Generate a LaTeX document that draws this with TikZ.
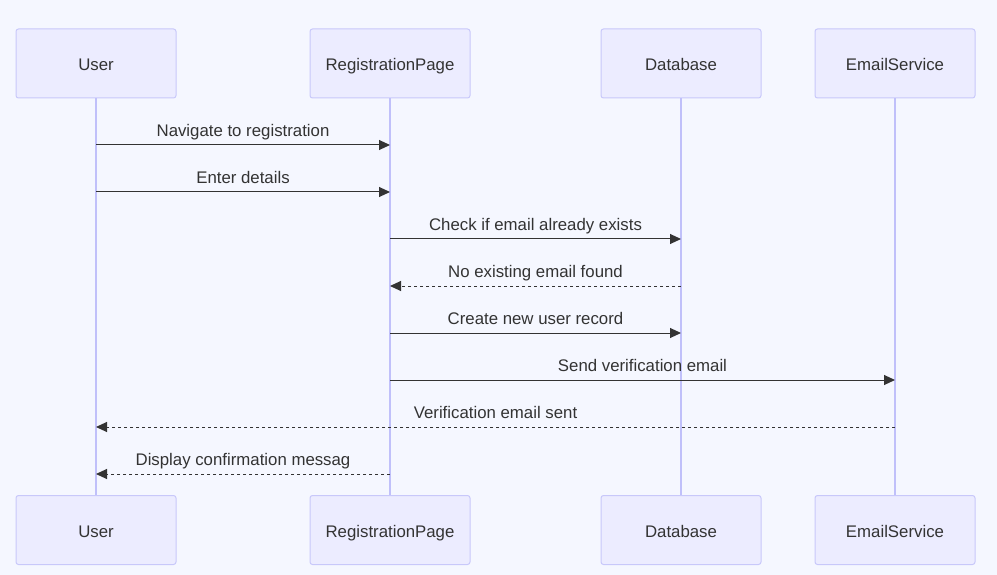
\documentclass[tikz,border=0pt]{standalone}
\usepackage{fontspec}
\setmainfont{Liberation Sans}
\usetikzlibrary{arrows.meta}
\definecolor{bgc}{HTML}{F5F7FF}
\definecolor{boxfill}{HTML}{ECECFF}
\definecolor{boxdraw}{HTML}{C8C8FA}
\definecolor{lifec}{HTML}{C0C0FA}
\definecolor{txt}{HTML}{333333}
\begin{document}
\begin{tikzpicture}[x=1pt,y=-1pt,
  actor/.style={draw=boxdraw, fill=boxfill, line width=1pt, rounded corners=2.5pt,
    minimum width=160pt, minimum height=69pt, inner sep=0pt, text height=16pt, text depth=2pt,
    text=txt, font=\fontsize{16.8pt}{19pt}\selectfont},
  life/.style={draw=lifec, line width=1.5pt},
  msg/.style={draw=txt, line width=1pt, -{Triangle[length=11pt,width=10pt]}},
  rmsg/.style={msg, dashed, dash pattern=on 3pt off 3pt},
  lbl/.style={text=txt, font=\fontsize{16.8pt}{19pt}\selectfont, inner sep=0pt, anchor=base}]
\useasboundingbox (0,0) rectangle (997,575);
\fill[bgc] (0,0) rectangle (997,575);
% top actors
\node[actor] (u1) at (96,63.5) {User};
\node[actor] (r1) at (390,63.5) {RegistrationPage};
\node[actor] (d1) at (681,63.5) {Database};
\node[actor] (e1) at (895,63.5) {EmailService};
% bottom actors
\node[actor] (u2) at (96,530) {User};
\node[actor] (r2) at (390,530) {RegistrationPage};
\node[actor] (d2) at (681,530) {Database};
\node[actor] (e2) at (895,530) {EmailService};
% lifelines
\draw[life] (u1.south) -- (u2.north);
\draw[life] (r1.south) -- (r2.north);
\draw[life] (d1.south) -- (d2.north);
\draw[life] (e1.south) -- (e2.north);
% message anchor coordinates
\foreach \n/\y in {1/145,2/192,3/239,4/286,5/333,6/380,7/427,8/474}{
  \coordinate (u\n) at (96,\y);
  \coordinate (r\n) at (390,\y);
  \coordinate (d\n) at (681,\y);
  \coordinate (e\n) at (895,\y);
}
\draw[msg] (u1) -- (r1) node[lbl, midway, yshift=8.5pt] (l1) {Navigate to registration};
\draw[msg] (u2) -- (r2) node[lbl, midway, yshift=8.5pt] (l2) {Enter details};
\draw[msg] (r3) -- (d3) node[lbl, midway, yshift=8.5pt] (l3) {Check if email already exists};
\draw[rmsg] (d4) -- (r4) node[lbl, midway, yshift=8.5pt] (l4) {No existing email found};
\draw[msg] (r5) -- (d5) node[lbl, midway, yshift=8.5pt] (l5) {Create new user record};
\draw[msg] (r6) -- (e6) node[lbl, midway, yshift=8.5pt] (l6) {Send verification email};
\draw[rmsg] (e7) -- (u7) node[lbl, midway, yshift=8.5pt] (l7) {Verification email sent};
\draw[rmsg] (r8) -- (u8) node[lbl, midway, yshift=8.5pt] (l8) {Display confirmation messag};
\end{tikzpicture}
\end{document}
